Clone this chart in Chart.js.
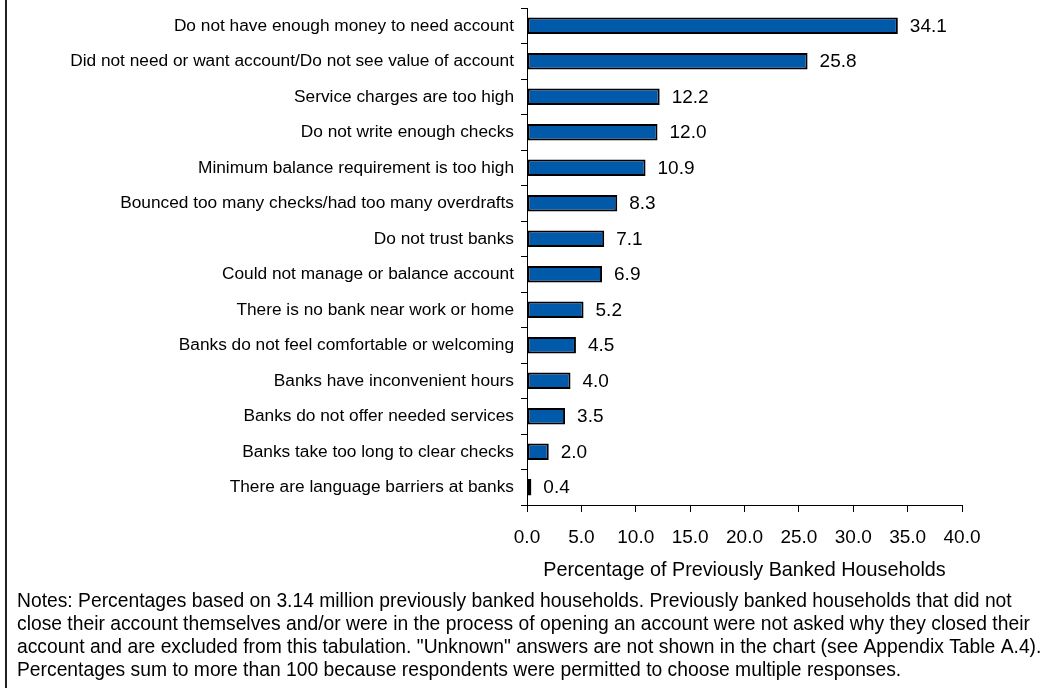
<!DOCTYPE html>
<html>
<head>
<meta charset="utf-8">
<script src="https://cdn.jsdelivr.net/npm/chart.js@4/dist/chart.umd.min.js"></script>
<style>
  html, body { margin: 0; padding: 0; background: #ffffff; }
  #wrap { position: relative; width: 1054px; height: 688px; }
</style>
</head>
<body>
<div id="wrap"><canvas id="chart" width="1054" height="688"></canvas></div>
<script>
// Reasons previously banked households gave for not having an account
const categories = [
  'Do not have enough money to need account',
  'Did not need or want account/Do not see value of account',
  'Service charges are too high',
  'Do not write enough checks',
  'Minimum balance requirement is too high',
  'Bounced too many checks/had too many overdrafts',
  'Do not trust banks',
  'Could not manage or balance account',
  'There is no bank near work or home',
  'Banks do not feel comfortable or welcoming',
  'Banks have inconvenient hours',
  'Banks do not offer needed services',
  'Banks take too long to clear checks',
  'There are language barriers at banks'
];
const percentages = [34.1, 25.8, 12.2, 12.0, 10.9, 8.3, 7.1, 6.9, 5.2, 4.5, 4.0, 3.5, 2.0, 0.4];
const axisTitle = 'Percentage of Previously Banked Households';
const notesLines = [
  'Notes: Percentages based on 3.14 million previously banked households. Previously banked households that did not',
  'close their account themselves and/or were in the process of opening an account were not asked why they closed their',
  'account and are excluded from this tabulation. "Unknown" answers are not shown in the chart (see Appendix Table A.4).',
  'Percentages sum to more than 100 because respondents were permitted to choose multiple responses.'
];

const FONT = '"Liberation Sans", Arial, Helvetica, sans-serif';

// Value labels to the right of each bar
const valueLabels = {
  id: 'valueLabels',
  afterDatasetsDraw(chart) {
    const ctx = chart.ctx;
    const meta = chart.getDatasetMeta(0);
    ctx.save();
    ctx.font = '19px ' + FONT;
    ctx.fillStyle = '#000000';
    ctx.textAlign = 'left';
    ctx.textBaseline = 'middle';
    meta.data.forEach((bar, i) => {
      ctx.fillText(percentages[i].toFixed(1), bar.x + 12, bar.y + 1);
    });
    ctx.restore();
  }
};

// Left frame rule and the notes block under the axis
const frameAndNotes = {
  id: 'frameAndNotes',
  afterDraw(chart) {
    const ctx = chart.ctx;
    ctx.save();
    ctx.fillStyle = '#222222';
    ctx.fillRect(5, 0, 2, chart.height);
    ctx.font = '19.3px ' + FONT;
    ctx.fillStyle = '#000000';
    ctx.textAlign = 'left';
    ctx.textBaseline = 'alphabetic';
    notesLines.forEach((line, i) => {
      ctx.fillText(line, 17, 607 + i * 23);
    });
    ctx.restore();
  }
};

new Chart(document.getElementById('chart'), {
  type: 'bar',
  data: {
    labels: categories,
    datasets: [{
      data: percentages,
      backgroundColor: '#0059A9',
      borderColor: '#000000',
      borderWidth: 2,
      borderSkipped: false,
      barPercentage: 0.46,
      categoryPercentage: 1.0
    }]
  },
  options: {
    indexAxis: 'y',
    responsive: false,
    animation: false,
    layout: { padding: { left: 0, right: 92, top: 8, bottom: 103 } },
    plugins: {
      legend: { display: false },
      tooltip: { enabled: false }
    },
    scales: {
      x: {
        min: 0,
        max: 40,
        afterFit(scale) { scale.height = 80; },
        ticks: {
          stepSize: 5,
          color: '#000000',
          padding: 14,
          font: { family: FONT, size: 19 },
          callback: (v) => Number(v).toFixed(1)
        },
        grid: {
          display: true,
          drawOnChartArea: false,
          drawTicks: true,
          tickLength: 7,
          color: '#000000',
          lineWidth: 1
        },
        border: { display: true, color: '#000000', width: 1 },
        title: {
          display: true,
          text: axisTitle,
          color: '#000000',
          font: { family: FONT, size: 19.8 },
          padding: { top: 0, bottom: 3 }
        }
      },
      y: {
        afterFit(scale) {
          scale.width = 527;
          scale.paddingTop = 0;
          scale.paddingBottom = 0;
        },
        ticks: {
          color: '#000000',
          padding: 7,
          font: { family: FONT, size: 17.3 }
        },
        grid: {
          display: true,
          offset: true,
          drawOnChartArea: false,
          drawTicks: true,
          tickLength: 6,
          color: '#000000',
          lineWidth: 1
        },
        border: { display: true, color: '#000000', width: 1 }
      }
    }
  },
  plugins: [valueLabels, frameAndNotes]
});
</script>
</body>
</html>
